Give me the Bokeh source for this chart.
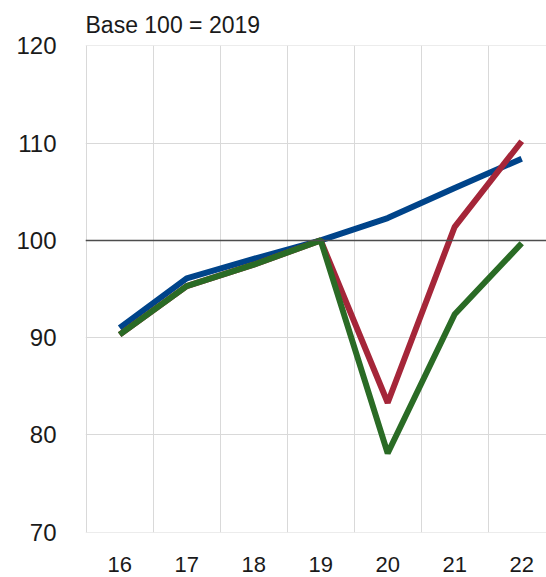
from bokeh.plotting import figure
from bokeh.models import FixedTicker, Span, Range1d, Title
from bokeh.embed import file_html
from bokeh.resources import INLINE

years = [16, 17, 18, 19, 20, 21, 22]
blue = [91.0, 96.1, 98.1, 100.0, 102.3, 105.4, 108.4]
red = [90.3, 95.3, 97.5, 100.0, 83.3, 101.4, 110.2]
green = [90.3, 95.3, 97.5, 100.0, 78.1, 92.4, 99.7]
y_ticks = [70, 80, 90, 100, 110, 120]
grid_x = [15.5, 16.5, 17.5, 18.5, 19.5, 20.5, 21.5, 22.5]

FONT = "Liberation Sans"

p = figure(width=546, height=577, output_backend="svg", toolbar_location=None,
           x_range=Range1d(15.49, 22.37), y_range=Range1d(69.95, 120.05),
           min_border_left=85, min_border_right=0, min_border_top=45, min_border_bottom=45)
p.outline_line_color = None

t = Title(text="Base 100 = 2019", align="left", text_font=FONT, text_font_size="23px",
          text_font_style="normal", text_color="#1a1a1a", offset=0, standoff=15)
p.add_layout(t, "above")

p.xaxis.ticker = FixedTicker(ticks=years)
p.yaxis.ticker = FixedTicker(ticks=y_ticks)
p.xgrid.ticker = FixedTicker(ticks=grid_x)
for ax in (p.xaxis, p.yaxis):
    ax.axis_line_color = None
    ax.major_tick_line_color = None
    ax.minor_tick_line_color = None
    ax.major_label_text_font = FONT
    ax.major_label_text_color = "#1a1a1a"
p.xaxis.major_label_text_font_size = "22px"
p.yaxis.major_label_text_font_size = "24px"
p.xaxis.major_label_standoff = 18
p.yaxis.major_label_standoff = 23
p.xgrid.grid_line_color = "#d9d9d9"
p.ygrid.grid_line_color = "#d9d9d9"
p.xgrid.grid_line_width = 1
p.ygrid.grid_line_width = 1

p.add_layout(Span(location=100, dimension="width", line_color="#4d4d4d", line_width=1.5))

p.line(years, blue, line_color="#00448a", line_width=6)
p.line(years, red, line_color="#a52639", line_width=6)
p.line(years, green, line_color="#2a6b25", line_width=6)

open("out.html", "w").write(file_html(p, INLINE))
